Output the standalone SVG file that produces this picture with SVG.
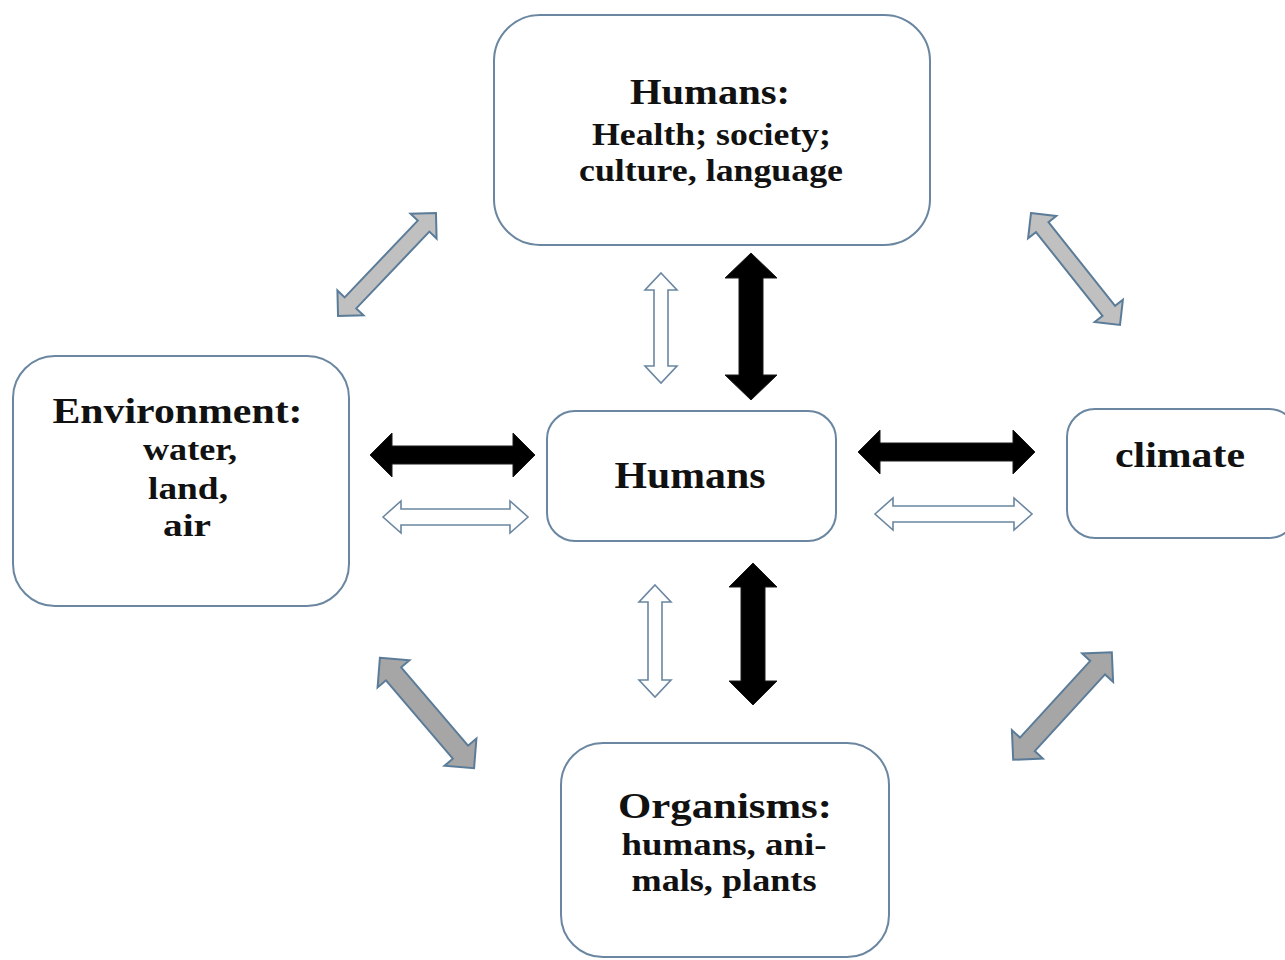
<svg xmlns="http://www.w3.org/2000/svg" width="1285" height="960" viewBox="0 0 1285 960">
<style>
.box{fill:#ffffff;stroke:#6a86a0;stroke-width:2}
.t{font-family:"Liberation Serif","Times New Roman",serif;font-weight:bold;fill:#111111;text-anchor:middle}
.blk{fill:#000000;stroke:#1a1a1a;stroke-width:1}
.hol{fill:#ffffff;stroke:#6a86a0;stroke-width:1.6}
.g1{fill:#c0c0c0;stroke:#5b7c99;stroke-width:2}
.g2{fill:#a6a6a6;stroke:#5b7c99;stroke-width:2}
</style>
<rect width="1285" height="960" fill="#ffffff"/>
<g id="connectors">
  <path class="g1" transform="translate(387,264.5) rotate(-46.4)" d="M-71,0 L-53,-18 L-53,-8 L53,-8 L53,-18 L71,0 L53,18 L53,8 L-53,8 L-53,18 Z"/>
  <path class="g1" transform="translate(1075.5,269) rotate(51.5)" d="M-71.5,0 L-53.5,-18 L-53.5,-8 L53.5,-8 L53.5,-18 L71.5,0 L53.5,18 L53.5,8 L-53.5,8 L-53.5,18 Z"/>
  <path class="g2" transform="translate(427,713) rotate(49.5)" d="M-72.5,0 L-51.5,-21 L-51.5,-10 L51.5,-10 L51.5,-21 L72.5,0 L51.5,21 L51.5,10 L-51.5,10 L-51.5,21 Z"/>
  <path class="g2" transform="translate(1062.5,706) rotate(-47.5)" d="M-73,0 L-52,-21 L-52,-10 L52,-10 L52,-21 L73,0 L52,21 L52,10 L-52,10 L-52,21 Z"/>
  <path class="blk" d="M751,253 L777,278 L763,278 L763,375 L777,375 L751,400 L725,375 L739,375 L739,278 L725,278 Z"/>
  <path class="blk" d="M753,563 L777,587 L765,587 L765,681 L777,681 L753,705 L729,681 L741,681 L741,587 L729,587 Z"/>
  <path class="blk" d="M370,455 L392,433 L392,446 L513,446 L513,433 L535,455 L513,477 L513,464 L392,464 L392,477 Z"/>
  <path class="blk" d="M858,452 L880,430 L880,443 L1013,443 L1013,430 L1035,452 L1013,474 L1013,461 L880,461 L880,474 Z"/>
  <path class="hol" d="M661,273 L677,290 L668,290 L668,366 L677,366 L661,383 L645,366 L654,366 L654,290 L645,290 Z"/>
  <path class="hol" d="M655,585 L671,602 L662,602 L662,680 L671,680 L655,697 L639,680 L648,680 L648,602 L639,602 Z"/>
  <path class="hol" d="M383,517 L401,501 L401,509 L510,509 L510,501 L528,517 L510,533 L510,525 L401,525 L401,533 Z"/>
  <path class="hol" d="M875,514 L893,498 L893,506 L1014,506 L1014,498 L1032,514 L1014,530 L1014,522 L893,522 L893,530 Z"/>
</g>
<g id="node-humans-top">
  <rect class="box" x="494" y="15" width="436" height="230" rx="46"/>
  <text class="t" x="710" y="104" font-size="36" textLength="160" lengthAdjust="spacingAndGlyphs">Humans:</text>
  <text class="t" x="711.5" y="145" font-size="32" textLength="239" lengthAdjust="spacingAndGlyphs">Health; society;</text>
  <text class="t" x="711" y="181" font-size="32" textLength="264" lengthAdjust="spacingAndGlyphs">culture, language</text>
</g>
<g id="node-environment">
  <rect class="box" x="13" y="356" width="336" height="250" rx="42"/>
  <text class="t" x="177.5" y="423" font-size="36" textLength="250" lengthAdjust="spacingAndGlyphs">Environment:</text>
  <text class="t" x="190" y="460" font-size="31" textLength="94" lengthAdjust="spacingAndGlyphs">water,</text>
  <text class="t" x="188" y="499" font-size="31" textLength="80" lengthAdjust="spacingAndGlyphs">land,</text>
  <text class="t" x="187" y="536" font-size="31" textLength="48" lengthAdjust="spacingAndGlyphs">air</text>
</g>
<g id="node-humans-center">
  <rect class="box" x="547" y="411" width="289" height="130" rx="28"/>
  <text class="t" x="690" y="488" font-size="38" textLength="151" lengthAdjust="spacingAndGlyphs">Humans</text>
</g>
<g id="node-climate">
  <rect class="box" x="1067" y="409" width="230" height="129" rx="28"/>
  <text class="t" x="1180" y="467" font-size="35" textLength="130" lengthAdjust="spacingAndGlyphs">climate</text>
</g>
<g id="node-organisms">
  <rect class="box" x="561" y="743" width="328" height="214" rx="42"/>
  <text class="t" x="725" y="818" font-size="36" textLength="214" lengthAdjust="spacingAndGlyphs">Organisms:</text>
  <text class="t" x="724" y="855" font-size="31" textLength="205" lengthAdjust="spacingAndGlyphs">humans, ani-</text>
  <text class="t" x="724" y="891" font-size="31" textLength="185" lengthAdjust="spacingAndGlyphs">mals, plants</text>
</g>
</svg>
